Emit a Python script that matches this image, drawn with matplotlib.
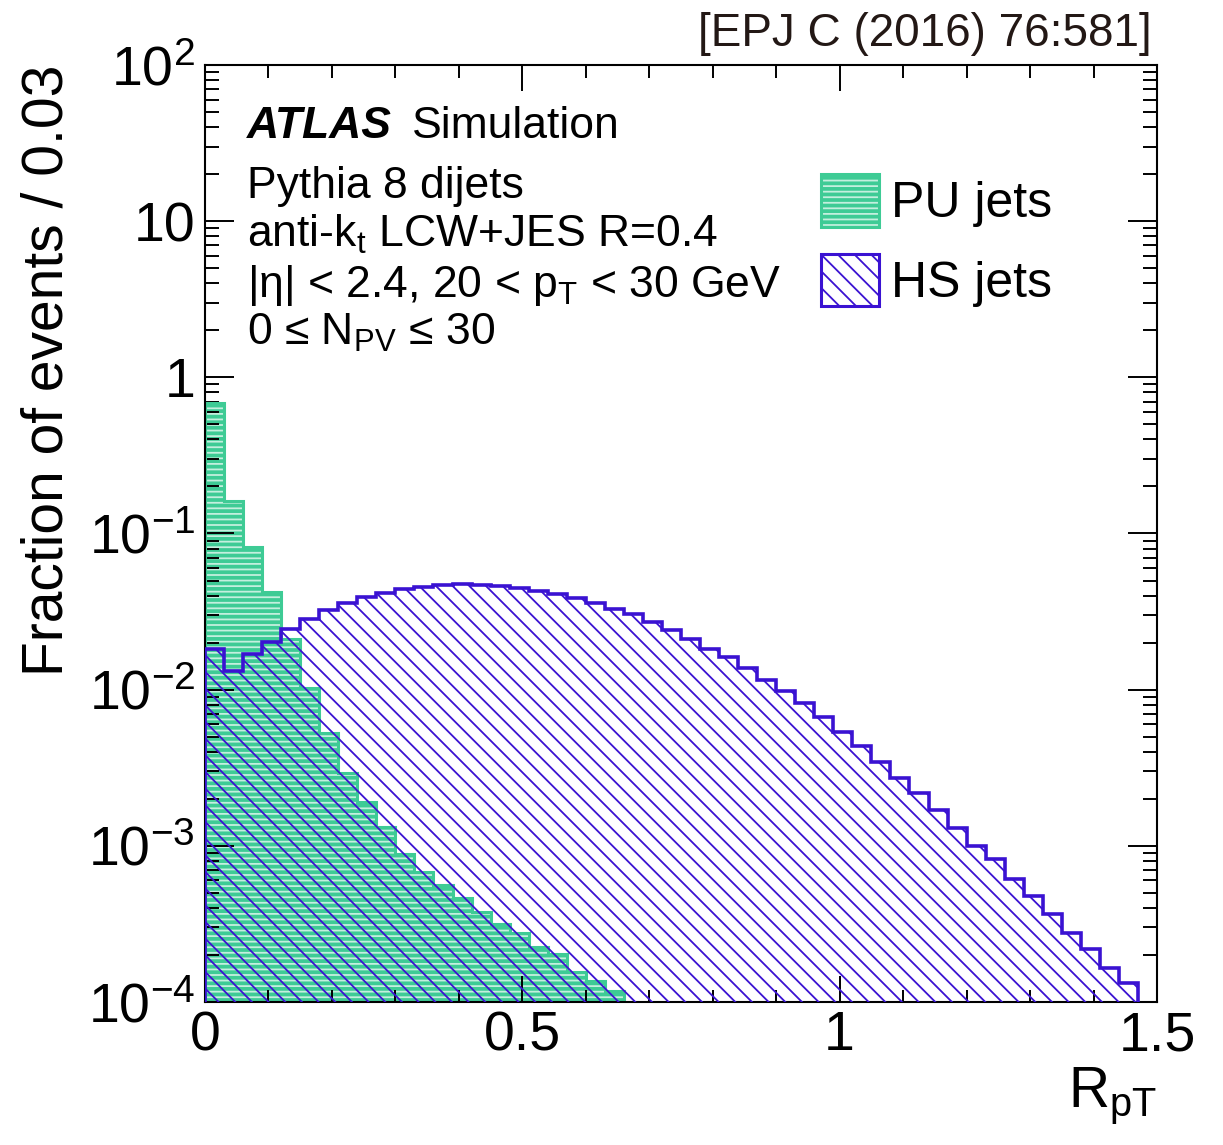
import matplotlib
matplotlib.use("Agg")
import matplotlib.pyplot as plt
import numpy as np
from matplotlib.patches import Patch
from matplotlib.legend_handler import HandlerTuple
from matplotlib.ticker import FixedLocator, LogLocator, NullFormatter, FixedFormatter

plt.rcParams['font.family'] = ['Liberation Sans', 'DejaVu Sans']
plt.rcParams['mathtext.fontset'] = 'custom'
plt.rcParams['mathtext.rm'] = 'Liberation Sans'
plt.rcParams['mathtext.it'] = 'Liberation Sans:italic'
plt.rcParams['mathtext.bf'] = 'Liberation Sans:bold'
plt.rcParams['hatch.linewidth'] = 1.3

# ---- data (fraction of events per 0.03 bin in R_pT) ----
bin_edges = np.linspace(0.0, 1.5, 51)
pu_edges = bin_edges[:23]
pu_jets = [0.68, 0.161, 0.0817, 0.0419, 0.0210, 0.0103, 5.27e-3, 2.92e-3,
           1.92e-3, 1.32e-3, 8.9e-4, 6.8e-4, 5.6e-4, 4.6e-4, 3.76e-4, 3.18e-4,
           2.78e-4, 2.26e-4, 2.02e-4, 1.56e-4, 1.36e-4, 1.18e-4]
hs_jets = [0.0182, 0.01325, 0.0168, 0.0201, 0.0243, 0.0282, 0.0322, 0.0360,
           0.0391, 0.0417, 0.0438, 0.0457, 0.0466, 0.0473, 0.0471, 0.0464,
           0.0449, 0.0430, 0.0410, 0.0385, 0.0357, 0.0329, 0.0303, 0.0270,
           0.0241, 0.0212, 0.0183, 0.0161, 0.01377, 0.01159, 9.86e-3, 8.17e-3,
           6.71e-3, 5.38e-3, 4.33e-3, 3.45e-3, 2.70e-3, 2.18e-3, 1.69e-3,
           1.31e-3, 1.0e-3, 8.22e-4, 6.17e-4, 4.78e-4, 3.65e-4, 2.75e-4,
           2.18e-4, 1.66e-4, 1.33e-4, 0.0]

ytick_vals = [1e-4, 1e-3, 1e-2, 1e-1, 1, 10, 100]
ytick_labels = [r'$\mathregular{10^{-4}}$', r'$\mathregular{10^{-3}}$',
                r'$\mathregular{10^{-2}}$', r'$\mathregular{10^{-1}}$',
                '1', '10', r'$\mathregular{10^{2}}$']
xtick_vals = [0, 0.5, 1, 1.5]
xtick_labels = ['0', '0.5', '1', '1.5']

green = '#3ecb95'
green_hatch = '#c4efde'
blue = '#3a12d2'

fig = plt.figure(figsize=(12.23, 11.45), dpi=100)
ax = fig.add_axes([205/1223, 1 - 1002/1145, 952/1223, 937/1145])
ax.set_yscale('log', nonpositive='clip')

# PU jets: green fill with light dashed hatch, green outline
ax.stairs(pu_jets, pu_edges, baseline=0, fill=True, facecolor=green,
          edgecolor=green_hatch, hatch='---', linewidth=0, zorder=1)
ax.stairs(pu_jets, pu_edges, baseline=0, fill=False, edgecolor=green,
          linewidth=2.2, zorder=2)
# HS jets: blue diagonal hatch, blue outline
ax.stairs(hs_jets, bin_edges, baseline=0, fill=True, facecolor='none',
          edgecolor=blue, hatch='\\\\', linewidth=2.6, zorder=3)

ax.set_xlim(0, 1.5)
ax.set_ylim(1e-4, 100)

ax.xaxis.set_major_locator(FixedLocator(xtick_vals))
ax.xaxis.set_major_formatter(FixedFormatter(xtick_labels))
ax.xaxis.set_minor_locator(FixedLocator(np.arange(0.1, 1.5, 0.1)))
ax.yaxis.set_major_locator(FixedLocator(ytick_vals))
ax.yaxis.set_major_formatter(FixedFormatter(ytick_labels))
ax.yaxis.set_minor_locator(LogLocator(base=10, subs=np.arange(2, 10), numticks=20))
ax.yaxis.set_minor_formatter(NullFormatter())

ax.tick_params(which='both', direction='in', top=True, right=True, width=1.4)
ax.tick_params(axis='x', which='major', length=19, labelsize=40, pad=6)
ax.tick_params(axis='x', which='minor', length=9)
ax.tick_params(axis='y', which='major', length=21, labelsize=40, pad=7)
ax.tick_params(axis='y', which='minor', length=10)
for s in ax.spines.values():
    s.set_linewidth(1.5)

ax.set_ylabel('Fraction of events / 0.03', fontsize=41, loc='top')
ax.yaxis.set_label_coords(-0.137, 1.0)
ax.set_xlabel(r'R$_{\mathregular{pT}}$', fontsize=41, loc='right')
ax.xaxis.set_label_coords(1.0, -0.068)

tx = 42/952
ax.text(tx, 0.922, 'ATLAS', fontsize=32, fontweight='bold', style='italic',
        transform=ax.transAxes, va='baseline')
ax.text(0.2175, 0.922, 'Simulation', fontsize=32, transform=ax.transAxes, va='baseline')
ax.text(tx, 0.858, 'Pythia 8 dijets', fontsize=32, transform=ax.transAxes, va='baseline')
ax.text(tx, 0.806, r'anti-k$_{\mathregular{t}}$ LCW+JES R=0.4', fontsize=32,
        transform=ax.transAxes, va='baseline')
ax.text(tx, 0.752, r'|η| < 2.4, 20 < p$_{\mathregular{T}}$ < 30 GeV', fontsize=32,
        transform=ax.transAxes, va='baseline')
ax.text(tx, 0.701, r'0 ≤ N$_{\mathregular{PV}}$ ≤ 30', fontsize=32,
        transform=ax.transAxes, va='baseline')

fig.text(1152/1223, 1 - 46/1145, '[EPJ C (2016) 76:581]', fontsize=33,
         color='#231815', ha='right', va='baseline')

pu_fill = Patch(facecolor=green, edgecolor=green_hatch, hatch='---', linewidth=0)
pu_line = Patch(facecolor='none', edgecolor=green, linewidth=2.2)
hs_patch = Patch(facecolor='none', edgecolor=blue, hatch='\\\\', linewidth=2.2)
ax.legend([(pu_fill, pu_line), hs_patch], ['PU jets', 'HS jets'],
          handler_map={tuple: HandlerTuple(ndivide=1)},
          loc='upper left', bbox_to_anchor=((821-205)/952, (1002-174)/937),
          frameon=False, fontsize=36, borderpad=0, borderaxespad=0,
          handlelength=1.15, handleheight=1.24, labelspacing=0.53,
          handletextpad=0.25)

fig.savefig('out.png', dpi=100)
